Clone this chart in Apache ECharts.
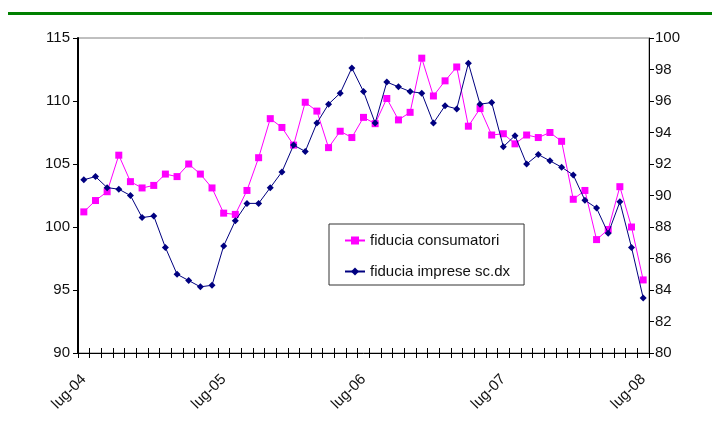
<!DOCTYPE html>
<html lang="it">
<head>
<meta charset="UTF-8">
<title>fiducia</title>
<style>
  html, body { margin: 0; padding: 0; background: #fff; }
  #chart { width: 712px; height: 431px; }
</style>
</head>
<body>
<div id="chart"></div>
<script src="https://cdn.jsdelivr.net/npm/echarts@6/dist/echarts.min.js"></script>
<script>
// mesi da lug-04 a lug-08
var monthNames = ['gen', 'feb', 'mar', 'apr', 'mag', 'giu', 'lug', 'ago', 'set', 'ott', 'nov', 'dic'];
var categories = [];
for (var k = 6; k <= 6 + 48; k++) {
  var yy = 4 + Math.floor(k / 12);
  categories.push(monthNames[k % 12] + '-0' + yy);
}

// fiducia consumatori (asse sinistro)
var consumatori = [101.2, 102.1, 102.8, 105.7, 103.6, 103.1, 103.3, 104.2, 104.0, 105.0,
  104.2, 103.1, 101.1, 101.0, 102.9, 105.5, 108.6, 107.9, 106.5, 109.9,
  109.2, 106.3, 107.6, 107.1, 108.7, 108.2, 110.2, 108.5, 109.1, 113.4,
  110.4, 111.6, 112.7, 108.0, 109.4, 107.3, 107.4, 106.6, 107.3, 107.1,
  107.5, 106.8, 102.2, 102.9, 99.0, 99.8, 103.2, 100.0, 95.8];

// fiducia imprese sc.dx (asse destro)
var imprese = [91.0, 91.2, 90.5, 90.4, 90.0, 88.6, 88.7, 86.7, 85.0, 84.6,
  84.2, 84.3, 86.8, 88.4, 89.5, 89.5, 90.5, 91.5, 93.2, 92.8,
  94.6, 95.8, 96.5, 98.1, 96.6, 94.6, 97.2, 96.9, 96.6, 96.5,
  94.6, 95.7, 95.5, 98.4, 95.8, 95.9, 93.1, 93.8, 92.0, 92.6,
  92.2, 91.8, 91.3, 89.7, 89.2, 87.6, 89.6, 86.7, 83.5];

var chart = echarts.init(document.getElementById('chart'));

var labelFont = { color: '#111', fontSize: 15, fontFamily: 'Liberation Sans' };

var option = {
  backgroundColor: '#fff',
  animation: false,
  graphic: [{
    type: 'rect',
    shape: { x: 8, y: 12, width: 704, height: 3 },
    style: { fill: '#008000' }
  }],
  grid: {
    left: 78, right: 63, top: 38, bottom: 78,
    show: true, borderColor: '#808080', borderWidth: 1
  },
  legend: {
    orient: 'vertical',
    left: 329, top: 224,
    padding: [9, 14, 6, 15],
    itemGap: 16,
    itemWidth: 20, itemHeight: 10,
    backgroundColor: '#fff',
    borderColor: '#333', borderWidth: 1,
    textStyle: { color: '#111', fontSize: 15, fontFamily: 'Liberation Sans' },
    data: ['fiducia consumatori', 'fiducia imprese sc.dx']
  },
  xAxis: [{
    type: 'category',
    data: categories,
    boundaryGap: true,
    axisLine: { lineStyle: { color: '#000', width: 1 } },
    axisTick: { show: true, interval: 0, length: 5, lineStyle: { color: '#000' } },
    axisLabel: { interval: 11, rotate: 45, margin: 24, fontSize: 15, color: '#111', fontFamily: 'Liberation Sans' },
    splitLine: { show: false }
  }, {
    type: 'category',
    data: categories,
    position: 'bottom',
    offset: 0,
    boundaryGap: true,
    axisLine: { show: false },
    axisTick: { show: true, inside: true, interval: 0, length: 5, lineStyle: { color: '#000' } },
    axisLabel: { show: false },
    splitLine: { show: false }
  }],
  yAxis: [{
    type: 'value',
    min: 90, max: 115, interval: 5,
    position: 'left',
    axisLine: { show: true, lineStyle: { color: '#000', width: 2 } },
    axisTick: { show: true, length: 5, lineStyle: { color: '#000' } },
    axisLabel: Object.assign({ margin: 8 }, labelFont),
    splitLine: { show: false }
  }, {
    type: 'value',
    min: 80, max: 100, interval: 2,
    position: 'right',
    axisLine: { show: true, lineStyle: { color: '#000', width: 1 } },
    axisTick: { show: true, length: 5, lineStyle: { color: '#000' } },
    axisLabel: Object.assign({ margin: 6 }, labelFont),
    splitLine: { show: false }
  }],
  series: [{
    name: 'fiducia consumatori',
    type: 'line',
    yAxisIndex: 0,
    data: consumatori,
    symbol: 'rect',
    symbolSize: 7,
    showAllSymbol: true,
    lineStyle: { color: '#FF00FF', width: 1 },
    itemStyle: { color: '#FF00FF' },
    z: 2
  }, {
    name: 'fiducia imprese sc.dx',
    type: 'line',
    yAxisIndex: 1,
    data: imprese,
    symbol: 'diamond',
    symbolSize: 7,
    showAllSymbol: true,
    lineStyle: { color: '#000080', width: 1 },
    itemStyle: { color: '#000080' },
    z: 3
  }]
};

chart.setOption(option);
</script>
</body>
</html>
